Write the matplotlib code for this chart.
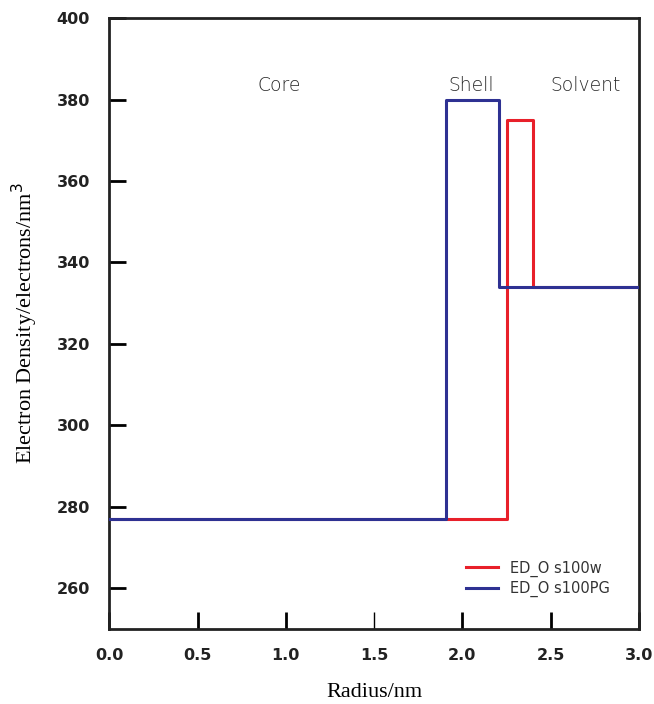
import matplotlib
matplotlib.use("Agg")
from matplotlib import pyplot as plt

# step profiles (radius in nm, electron density)
r_w = [0.0, 2.25, 2.25, 2.40, 2.40, 3.0]
ed_w = [277, 277, 375, 375, 334, 334]
r_pg = [0.0, 1.91, 1.91, 2.21, 2.21, 3.0]
ed_pg = [277, 277, 380, 380, 334, 334]

regions = ["Core", "Shell", "Solvent"]
region_x = [0.96, 2.05, 2.7]

fig = plt.figure(figsize=(6.54, 7.04), dpi=100)
ax = fig.add_axes([0.167, 0.107, 0.81, 0.867])

ax.plot(r_w, ed_w, color="#e8202a", lw=2.2, label="ED_O s100w", zorder=2)
ax.plot(r_pg, ed_pg, color="#2e3192", lw=2.2, label="ED_O s100PG", zorder=3)

for name, x in zip(regions, region_x):
    ax.text(x, 383.5, name, ha="center", va="center", fontsize=13.5,
            color="#2a2a2a", family="DejaVu Sans", fontweight="light")

ax.set_xlim(0, 3.0)
ax.set_ylim(250, 400)
ax.set_xticks([0.0, 0.5, 1.0, 1.5, 2.0, 2.5, 3.0])
ax.set_yticks(range(260, 401, 20))
ax.set_xticklabels([f"{v:.1f}" for v in ax.get_xticks()])
ax.tick_params(direction="in", length=12, width=2, labelsize=11.5, pad=14)
# the 1.5 tick is drawn thinner in the original
ax.xaxis.get_major_ticks()[3].tick1line.set_markeredgewidth(1)
for lab in ax.get_xticklabels() + ax.get_yticklabels():
    lab.set_fontweight("bold")
    lab.set_color("#222222")
for s in ax.spines.values():
    s.set_linewidth(2)
    s.set_color("#222222")

ax.set_xlabel("Radius/nm", family="Liberation Serif", fontsize=16, labelpad=14)
ax.set_ylabel("Electron Density/electrons/nm$^3$", family="Liberation Serif",
              fontsize=16, labelpad=12)

leg = ax.legend(loc="lower right", bbox_to_anchor=(0.97, 0.03), frameon=False,
                fontsize=10.5, handlelength=2.2, labelspacing=0.3)
for t in leg.get_texts():
    t.set_color("#333333")

fig.savefig("out.png", dpi=100)
